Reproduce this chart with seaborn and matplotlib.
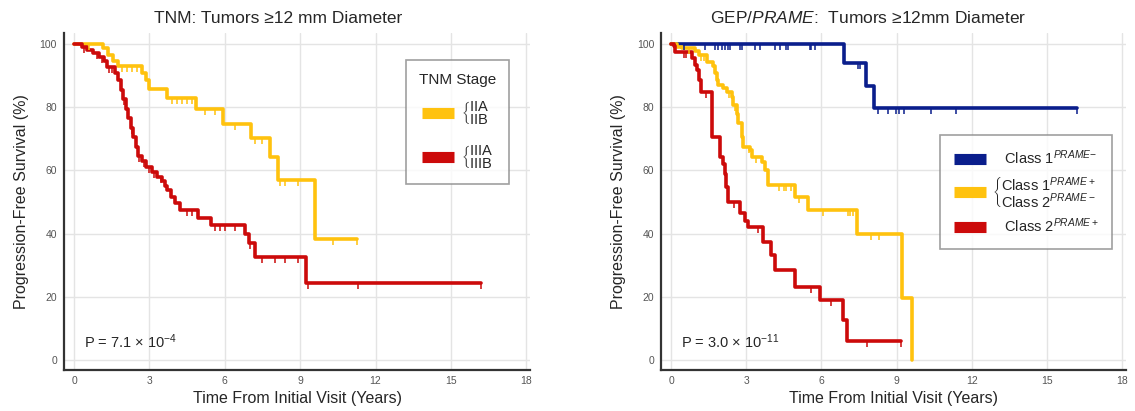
import matplotlib
matplotlib.use("Agg")
import matplotlib.pyplot as plt
import numpy as np
import pandas as pd
import seaborn as sns
from matplotlib.lines import Line2D
from matplotlib.path import Path
from matplotlib.ticker import MultipleLocator

# ---- data (years, % progression-free) ----
tnm2_t = [0, 1.15, 1.35, 1.55, 1.75, 2.7, 2.85, 3.0, 3.68, 4.87, 5.93, 7.05, 7.78, 8.12, 9.6]
tnm2_s = [100, 98.6, 96.5, 94.7, 93.0, 90.7, 88.6, 85.7, 82.8, 79.3, 74.7, 70.2, 64.3, 57.0, 38.3]
tnm2_end = 11.27
tnm2_cens = [0.6, 1.9, 2.1, 2.3, 2.5, 3.9, 4.1, 4.3, 4.5, 4.7, 5.2, 5.6, 6.4, 7.2, 7.5,
             8.2, 8.4, 8.9, 10.3, 11.27]

tnm3_t = [0, 0.3, 0.5, 0.75, 1.0, 1.2, 1.3, 1.63, 1.75, 1.85, 1.95, 2.05, 2.15, 2.25, 2.35,
          2.45, 2.55, 2.7, 2.88, 3.1, 3.3, 3.5, 3.6, 3.7, 3.85, 4.0, 4.2, 4.93, 5.46, 6.79,
          6.95, 7.2, 9.23]
tnm3_s = [100, 99, 98, 97, 96, 94.5, 92.8, 90.8, 88.5, 85.5, 82.5, 79.5, 76.5, 73.5, 70.5,
          67.5, 64.5, 63, 61, 59.5, 58, 56.5, 55, 53.8, 51.5, 49.6, 47.5, 45, 42.7, 40,
          37, 32.7, 24.4]
tnm3_end = 16.2
tnm3_cens = [0.4, 0.9, 1.1, 1.4, 1.5, 2.0, 2.3, 2.6, 2.8, 3.0, 3.2, 3.45, 4.5, 4.7, 5.6,
             5.8, 6.0, 6.4, 7.0, 7.5, 8.0, 8.4, 8.9, 9.3, 11.3, 16.2]

c1neg_t = [0, 6.9, 7.78, 8.08]
c1neg_s = [100, 93.9, 86.7, 79.6]
c1neg_end = 16.2
c1neg_cens = [0.5, 1.36, 1.76, 1.89, 2.02, 2.16, 2.29, 2.35, 2.75, 2.82, 3.35, 3.54, 4.14,
              4.33, 4.6, 4.67, 5.53, 5.6, 5.73, 7.45, 7.55, 8.24, 8.64, 8.97, 9.1, 9.3,
              10.36, 11.35, 16.2]

mid_t = [0, 0.24, 0.44, 0.96, 1.1, 1.43, 1.69, 1.76, 1.83, 1.89, 2.09, 2.22, 2.42, 2.49,
         2.62, 2.69, 2.82, 2.88, 3.15, 3.21, 3.61, 3.74, 3.88, 4.93, 5.46, 7.42, 9.23, 9.63]
mid_s = [100, 99, 98.6, 97.9, 96.5, 94.4, 93, 90.7, 88.6, 87, 86.2, 84.9, 83.3, 80.7,
         78, 74.9, 70.7, 67.5, 66.5, 64.3, 62.8, 60.1, 55.4, 51.7, 47.5, 39.8, 19.7, 0]
mid_end = 9.63
mid_cens = [0.7, 1.2, 1.3, 2.3, 2.55, 3.1, 3.4, 4.3, 4.5, 4.6, 4.8, 5.1, 6.06, 7.05,
            7.15, 7.25, 7.98, 8.3]

c2pos_t = [0, 0.1, 0.17, 0.83, 0.96, 1.03, 1.1, 1.2, 1.63, 1.96, 2.09, 2.15, 2.2, 2.27,
           2.75, 2.95, 3.08, 3.68, 4.0, 4.15, 4.93, 5.93, 6.85, 7.0]
c2pos_s = [100, 99.5, 97.6, 95.5, 93.4, 91.8, 88.5, 84.9, 70.7, 64.3, 62, 59, 54.8, 50.1,
           46.4, 44, 42.2, 37.4, 33.2, 28.5, 23.2, 19, 12.7, 6.1]
c2pos_end = 9.17
c2pos_cens = [0.5, 0.6, 1.4, 2.5, 3.48, 5.6, 6.39, 7.8, 9.17]

x_ticks = [0, 3, 6, 9, 12, 15, 18]
y_ticks = [0, 20, 40, 60, 80, 100]

YELLOW = "#ffc20e"
RED = "#cc0a0a"
BLUE = "#0a1e8c"

sns.set_theme(style="white")
plt.rcParams["font.family"] = ["Liberation Sans", "DejaVu Sans"]
plt.rcParams["mathtext.fontset"] = "custom"
plt.rcParams["mathtext.rm"] = "Liberation Sans"
plt.rcParams["mathtext.it"] = "Liberation Sans:italic"
plt.rcParams["mathtext.bf"] = "Liberation Sans:bold"

tick_mark = Path([(0, 0), (0, -1)])


def draw_km(ax, times, surv, end, cens, color):
    df = pd.DataFrame({"t": times + [end], "s": surv + [surv[-1]]})
    sns.lineplot(data=df, x="t", y="s", drawstyle="steps-post", color=color, lw=2.6,
                 estimator=None, sort=False, ax=ax)
    idx = np.searchsorted(times, cens, side="right") - 1
    cy = np.array(surv)[idx]
    sns.scatterplot(x=cens, y=cy, marker=tick_mark, s=64, color=color, edgecolor=color,
                    linewidth=1.1, ax=ax, zorder=3)


def style_axes(ax):
    ax.set_xlim(-0.4, 18.15)
    ax.set_ylim(-3.2, 103.5)
    ax.set_xticks(x_ticks)
    ax.set_yticks(y_ticks)
    ax.xaxis.set_minor_locator(MultipleLocator(1))
    ax.yaxis.set_minor_locator(MultipleLocator(10))
    ax.grid(True, which="major", color="#e4e4e4", lw=1)
    ax.set_axisbelow(True)
    sns.despine(ax=ax)
    for sp in ("left", "bottom"):
        ax.spines[sp].set_color("#333333")
        ax.spines[sp].set_linewidth(1.6)
    ax.tick_params(which="major", direction="in", length=6, width=1.2, color="#333333",
                   labelsize=7.5, labelcolor="#555555", pad=4)
    ax.tick_params(which="minor", direction="in", length=3, width=1, color="#555555")
    ax.tick_params(axis="y", which="major", pad=5)
    ax.set_xlabel("Time From Initial Visit (Years)", fontsize=11.5, labelpad=4)
    ax.set_ylabel("Progression-Free Survival (%)", fontsize=11.5, labelpad=8)


fig = plt.figure(figsize=(11.35, 4.11), dpi=100)
ax1 = fig.add_axes([0.0564, 0.0998, 0.4106, 0.82])
ax2 = fig.add_axes([0.5824, 0.0998, 0.4097, 0.82])

draw_km(ax1, tnm2_t, tnm2_s, tnm2_end, tnm2_cens, YELLOW)
draw_km(ax1, tnm3_t, tnm3_s, tnm3_end, tnm3_cens, RED)
style_axes(ax1)

draw_km(ax2, c1neg_t, c1neg_s, c1neg_end, c1neg_cens, BLUE)
draw_km(ax2, mid_t, mid_s, mid_end, mid_cens, YELLOW)
draw_km(ax2, c2pos_t, c2pos_s, c2pos_end, c2pos_cens, RED)
style_axes(ax2)

fig.text(0.245, 0.955, "TNM: Tumors \u226512 mm Diameter", ha="center", va="center",
         fontsize=12.5)
fig.text(0.765, 0.955, "GEP/$\\mathit{PRAME}$:  Tumors \u226512mm Diameter",
         ha="center", va="center", fontsize=12.5)

ax1.text(0.043, 0.065, r"P = 7.1 $\times$ 10$^{-4}$", transform=ax1.transAxes, fontsize=10.5)
ax2.text(0.043, 0.065, r"P = 3.0 $\times$ 10$^{-11}$", transform=ax2.transAxes, fontsize=10.5)


def bar(color):
    return Line2D([], [], color=color, lw=8, solid_capstyle="butt")


def brace(top, bottom):
    return (r"$\left\{\genfrac{}{}{0}{0}{" + top + "}{" + bottom + r"}\right.$")


leg1 = ax1.legend(
    [bar(YELLOW), bar(RED)],
    [brace(r"\mathregular{IIA}", r"\mathregular{IIB}"),
     brace(r"\mathregular{IIIA}", r"\mathregular{IIIB}")],
    title="TNM Stage", loc="upper right", bbox_to_anchor=(0.955, 0.92), fontsize=10.5,
    title_fontsize=11, handlelength=2.2, labelspacing=1.1, borderpad=0.9,
    borderaxespad=0, frameon=True, fancybox=False, edgecolor="#888888",
    handletextpad=0.45)
leg1.get_frame().set_linewidth(1.2)
leg1._legend_box.sep = 9

leg2 = ax2.legend(
    [bar(BLUE), bar(YELLOW), bar(RED)],
    [r"   Class 1$^{\mathit{PRAME}\mathregular{-}}$",
     brace(r"\mathregular{Class\ 1}^{\mathit{PRAME+}}",
           r"\mathregular{Class\ 2}^{\mathit{PRAME-}}"),
     r"   Class 2$^{\mathit{PRAME+}}$"],
    loc="upper right", bbox_to_anchor=(0.97, 0.697), fontsize=10.5,
    handlelength=2.2, labelspacing=0.55, borderpad=0.9, borderaxespad=0,
    frameon=True, fancybox=False, edgecolor="#888888", handletextpad=0.45)
leg2.get_frame().set_linewidth(1.2)

fig.savefig("out.png", dpi=100)
